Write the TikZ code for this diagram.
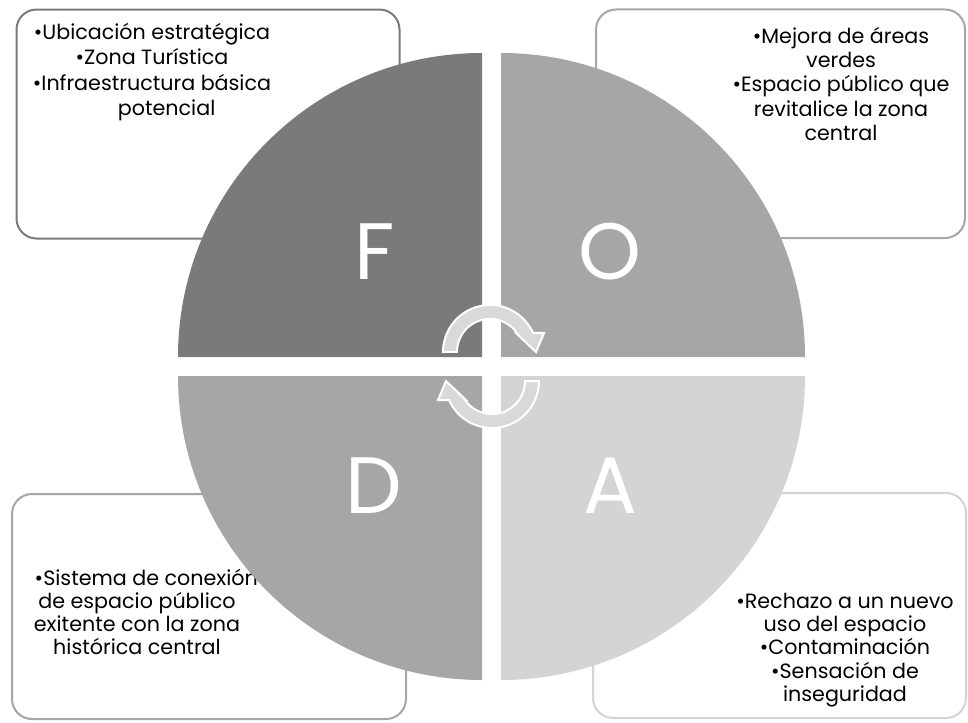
\documentclass[tikz,border=0pt]{standalone}
\usepackage{fontspec}
\setmainfont{Poppins}
\definecolor{qf}{HTML}{7A7A7A}
\definecolor{qo}{HTML}{A6A6A6}
\definecolor{qa}{HTML}{D4D4D4}
\definecolor{band}{HTML}{D9D9D9}
\begin{document}
\begin{tikzpicture}[x=0.75pt,y=0.75pt,
  card/.style={draw,line width=1.5pt,rounded corners=15pt,fill=white,inner sep=0pt},
  txt/.style={align=center,inner sep=0pt,font=\fontsize{15.5pt}{#1}\selectfont},
  letter/.style={text=white,inner sep=0pt,font=\fontsize{60pt}{64pt}\selectfont},
  cyc/.style={fill=band,draw=white,line width=1.5pt,line join=miter}]
\useasboundingbox (0,0) rectangle (968,-722);
\node[card,draw=qf,minimum width=287.25pt,minimum height=171.75pt] (fbox) at (208,-124) {};
\node[card,draw=qo,minimum width=276.75pt,minimum height=171.4pt] (obox) at (780.5,-123.75) {};
\node[card,draw=qo,minimum width=295.5pt,minimum height=168.75pt] (dbox) at (209,-606.5) {};
\node[card,draw=qa,minimum width=279.75pt,minimum height=168.75pt] (abox) at (779.5,-605.5) {};
\node[txt=19pt] (ftxt) at (152,-72) {•Ubicación estratégica\\•Zona Turística\\•Infraestructura básica\\\hspace*{22pt}potencial};
\node[txt=18.2pt] (otxt) at (841,-84) {•Mejora de áreas\\verdes\\•Espacio público que\\revitalice la zona\\central};
\node[txt=17.4pt] (dtxt) at (137,-612) {\hspace*{14pt}•Sistema de conexión\\de espacio público\\exitente con la zona\\histórica central};
\node[txt=17.4pt] (atxt) at (845,-650) {•Rechazo a un nuevo\\uso del espacio\\•Contaminación\\•Sensación de\\inseguridad};
% quadrants
\fill[qf] (482,-357) -- (178,-357) arc[start angle=180,end angle=90,radius=304] -- cycle;
\fill[qo] (501,-357) -- (501,-53) arc[start angle=90,end angle=0,radius=304] -- cycle;
\fill[qo] (482,-376) -- (482,-680) arc[start angle=270,end angle=180,radius=304] -- cycle;
\fill[qa] (501,-376) -- (805,-376) arc[start angle=0,end angle=-90,radius=304] -- cycle;
\node[letter] (lf) at (375,-252) {F};
\node[letter] (lo) at (610,-252) {O};
\node[letter] (ld) at (374,-486) {D};
\node[letter] (la) at (610,-486) {A};
% cycle arrows
\foreach \r in {0,180}
  \draw[cyc,rotate around={\r:(491,-366.5)}] (443,-352) arc[start angle=180,end angle=24,radius=47]
    -- (544,-333) -- (536,-352) -- (516,-333) -- (517,-333)
    arc[start angle=35,end angle=180,radius=33] -- cycle;
\end{tikzpicture}
\end{document}
